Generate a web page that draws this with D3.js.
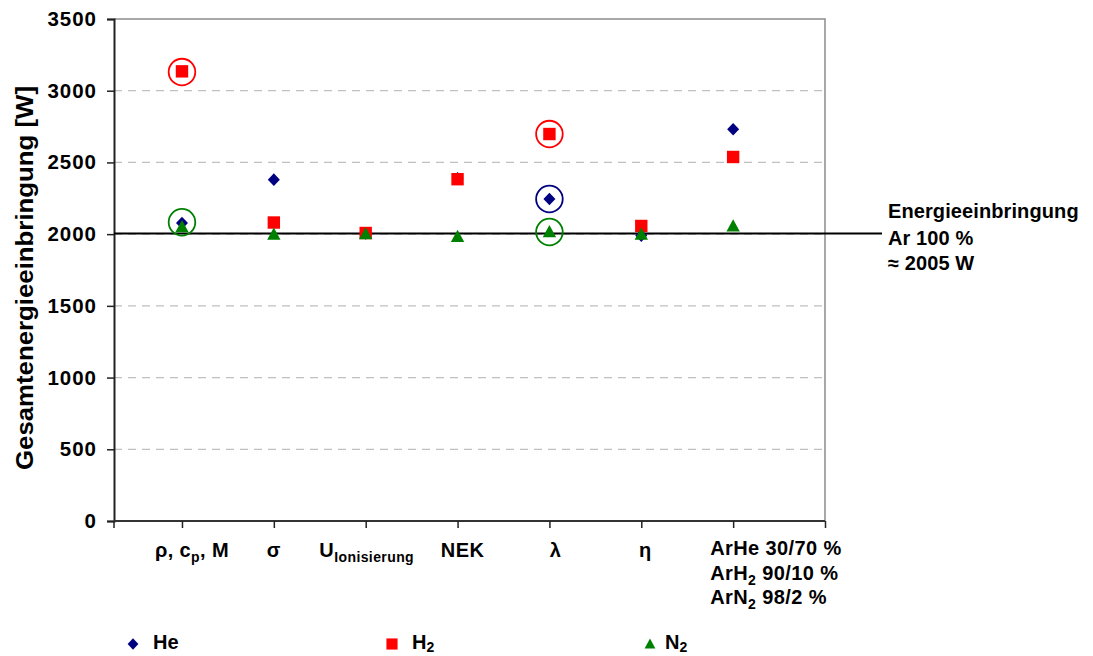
<!DOCTYPE html>
<html>
<head>
<meta charset="utf-8">
<script src="https://cdn.jsdelivr.net/npm/d3@7"></script>
<style>
  body { margin: 0; background: #fff; }
  svg { display: block; }
  text { font-family: "Liberation Sans", Arial, sans-serif; font-weight: bold; fill: #000; }
</style>
</head>
<body>
<svg id="chart" width="1093" height="656"></svg>
<script>
// Categories (each one a position on the x axis, 1..7)
const categories = ["rho", "sigma", "U", "NEK", "lambda", "eta", "mix"];

// Total energy input [W] per gas
const heValues = [2078, 2380, 2005, 2390, 2245, 1990, 2731];
const h2Values = [3135, 2081, 2008, 2383, 2698, 2057, 2538];
const n2Values = [2050, 1997, 2000, 1982, 2015, 1997, 2055];

// Reference: pure argon
const argonReference = 2005;

// Rings marking notable points: [category index, series, value at ring centre]
const ringCategory = [0, 0, 4, 4, 4];
const ringSeries   = ["H2", "N2", "H2", "He", "N2"];
const ringValue    = [3130, 2083, 2698, 2245, 2015];

const yTicks = [0, 500, 1000, 1500, 2000, 2500, 3000, 3500];
const xTicks = [1, 2, 3, 4, 5, 6, 7, 8];

const seriesNames = ["He", "H2", "N2"];
const seriesColors = { He: "#000080", H2: "#ff0000", N2: "#008000" };
const seriesValues = { He: heValues, H2: h2Values, N2: n2Values };

const svg = d3.select("#chart");
const plot = { left: 114, right: 825, top: 19, bottom: 521 };

const x = d3.scaleLinear().domain([0.26, 8]).range([plot.left, plot.right]);
const y = d3.scaleLinear().domain([0, 3500]).range([plot.bottom, plot.top]);

// Dashed horizontal gridlines
svg.append("g")
  .selectAll("line")
  .data(yTicks.filter(t => t > 0 && t < 3500))
  .join("line")
  .attr("x1", plot.left).attr("x2", plot.right)
  .attr("y1", d => y(d)).attr("y2", d => y(d))
  .attr("stroke", "#c0c0c0").attr("stroke-width", 1.2)
  .attr("stroke-dasharray", "8,6");

// Plot frame: grey top and right edges
svg.append("path")
  .attr("d", `M${plot.left},${plot.top}H${plot.right}V${plot.bottom}`)
  .attr("fill", "none").attr("stroke", "#8c8c8c").attr("stroke-width", 1.5);

// Y axis
const yAxis = d3.axisLeft(y).tickValues(yTicks).tickSize(7).tickPadding(10).tickFormat(d3.format("d"));
const gy = svg.append("g").attr("transform", `translate(${plot.left},0)`).call(yAxis);
gy.select(".domain").attr("stroke", "#222").attr("stroke-width", 2);
gy.selectAll(".tick line").attr("stroke", "#222").attr("stroke-width", 1.5);
gy.selectAll(".tick text")
  .style("font-size", "20.5px").style("font-family", "'Liberation Sans', Arial, sans-serif")
  .style("font-weight", "bold").style("letter-spacing", "1px").attr("fill", "#000");

// X axis (ticks only, labels placed separately)
const xAxis = d3.axisBottom(x).tickValues(xTicks).tickSize(7).tickFormat("");
const gx = svg.append("g").attr("transform", `translate(0,${plot.bottom})`).call(xAxis);
gx.select(".domain").attr("d", `M${plot.left},0H${plot.right}`).attr("stroke", "#333").attr("stroke-width", 2);
gx.selectAll(".tick line").attr("stroke", "#222").attr("stroke-width", 1.5);
gx.append("line").attr("x1", plot.left).attr("x2", plot.left).attr("y1", 0).attr("y2", 7)
  .attr("stroke", "#222").attr("stroke-width", 1.5);

// Y axis title
svg.append("text")
  .attr("transform", `translate(33,${(86 + 470) / 2}) rotate(-90)`)
  .attr("text-anchor", "middle")
  .attr("textLength", 384).attr("lengthAdjust", "spacingAndGlyphs")
  .style("font-size", "24px")
  .text("Gesamtenergieeinbringung [W]");

// Category labels
const labelBase = 557;
const labelShift = [10, 0, 1, 5, 6, 4, 0];
const catLabels = svg.append("g").style("font-size", "20px").style("letter-spacing", "0.4px");

function withSub(sel, main, sub, after, drop = 5) {
  sel.append("tspan").text(main);
  sel.append("tspan").attr("dy", drop).style("font-size", "14px").text(sub);
  if (after) sel.append("tspan").attr("dy", -drop).text(after);
}

categories.forEach((c, i) => {
  const cx = x(i + 1) + labelShift[i];
  if (c === "rho") {
    const t = catLabels.append("text").attr("x", cx).attr("y", labelBase).attr("text-anchor", "middle");
    withSub(t, "ρ, c", "p", ", M");
  } else if (c === "sigma") {
    catLabels.append("text").attr("x", cx).attr("y", labelBase).attr("text-anchor", "middle").text("σ");
  } else if (c === "U") {
    const t = catLabels.append("text").attr("x", cx).attr("y", labelBase).attr("text-anchor", "middle");
    withSub(t, "U", "Ionisierung");
  } else if (c === "NEK") {
    catLabels.append("text").attr("x", cx).attr("y", labelBase).attr("text-anchor", "middle").text("NEK");
  } else if (c === "lambda") {
    catLabels.append("text").attr("x", cx).attr("y", labelBase).attr("text-anchor", "middle").text("λ");
  } else if (c === "eta") {
    catLabels.append("text").attr("x", cx).attr("y", labelBase).attr("text-anchor", "middle").text("η");
  } else if (c === "mix") {
    const lx = cx - 23;
    catLabels.append("text").attr("x", lx).attr("y", labelBase - 2).text("ArHe 30/70 %");
    const t2 = catLabels.append("text").attr("x", lx).attr("y", labelBase + 23);
    withSub(t2, "ArH", "2", " 90/10 %");
    const t3 = catLabels.append("text").attr("x", lx).attr("y", labelBase + 47);
    withSub(t3, "ArN", "2", " 98/2 %");
  }
});

// Argon reference line and its note
svg.append("line")
  .attr("x1", plot.left).attr("x2", 882)
  .attr("y1", y(argonReference)).attr("y2", y(argonReference))
  .attr("stroke", "#000").attr("stroke-width", 2);

const note = svg.append("g").style("font-size", "20px").style("letter-spacing", "0.1px");
note.append("text").attr("x", 888).attr("y", y(argonReference) - 15).text("Energieeinbringung");
note.append("text").attr("x", 888).attr("y", y(argonReference) + 12).text("Ar 100 %");
note.append("text").attr("x", 888).attr("y", y(argonReference) + 37).text("≈ 2005 W");

// Marker shapes
const markerPath = {
  He: "M0,-6.3L6,0L0,6.3L-6,0Z",
  H2: "M-6.2,-6.2H6.2V6.2H-6.2Z",
  N2: "M0,-7L6.7,5.2H-6.7Z"
};

const points = svg.append("g");
seriesNames.forEach(s => {
  points.append("g")
    .selectAll("path")
    .data(seriesValues[s])
    .join("path")
    .attr("transform", (d, i) => `translate(${x(i + 1)},${y(d)})`)
    .attr("d", markerPath[s])
    .attr("fill", seriesColors[s]);
});

// Rings
svg.append("g")
  .selectAll("circle")
  .data(ringCategory.map((c, i) => ({ c, s: ringSeries[i], v: ringValue[i] })))
  .join("circle")
  .attr("cx", d => x(d.c + 1))
  .attr("cy", d => y(d.v))
  .attr("r", 13.3)
  .attr("fill", "none")
  .attr("stroke", d => seriesColors[d.s])
  .attr("stroke-width", 1.8);

// Legend
const legendX = [133, 392, 650];
const legendY = 644;
const legend = svg.append("g").style("font-size", "20px");
seriesNames.forEach((s, i) => {
  legend.append("path")
    .attr("d", s === "N2" ? "M0,-6L6,5H-6Z" : markerPath[s])
    .attr("fill", seriesColors[s])
    .attr("transform", `translate(${legendX[i]},${legendY}) scale(0.9)`);
  const t = legend.append("text").attr("x", legendX[i] + (s === "N2" ? 15 : 20)).attr("y", legendY + 5);
  if (s === "He") t.text("He");
  else withSub(t, s === "H2" ? "H" : "N", "2", null, 3);
});
</script>
</body>
</html>
